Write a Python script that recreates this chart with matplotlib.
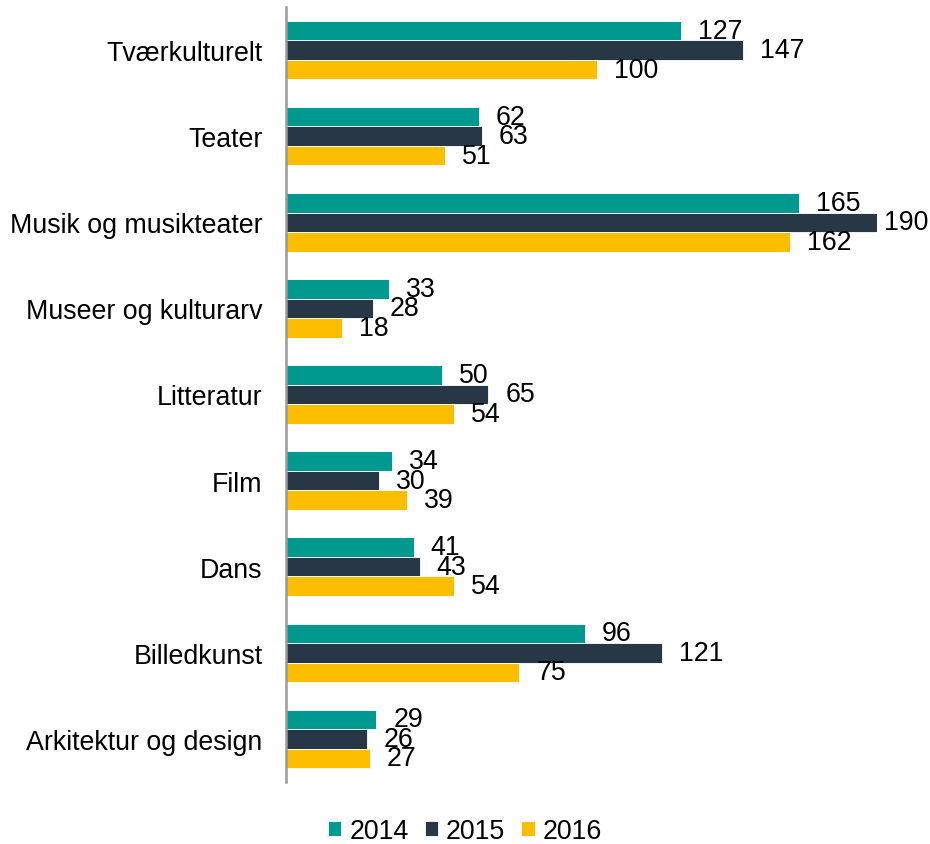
import matplotlib.pyplot as plt
import numpy as np

plt.rcParams['font.family'] = ['Liberation Sans', 'DejaVu Sans']

categories = ['Tværkulturelt', 'Teater', 'Musik og musikteater', 'Museer og kulturarv',
              'Litteratur', 'Film', 'Dans', 'Billedkunst', 'Arkitektur og design']
years = ['2014', '2015', '2016']
v2014 = [127, 62, 165, 33, 50, 34, 41, 96, 29]
v2015 = [147, 63, 190, 28, 65, 30, 43, 121, 26]
v2016 = [100, 51, 162, 18, 54, 39, 54, 75, 27]
colors = ['#009990', '#283746', '#FDBE00']

fs = 19.3
fig = plt.figure(figsize=(9.3, 8.45), dpi=100)
ax = fig.add_axes([286/930, 1-783/845, (877-286)/930, (783-8)/845])

y = np.arange(len(categories))
h = 0.227
series = [v2014, v2015, v2016]
labels = []
for i, (vals, col, yr) in enumerate(zip(series, colors, years)):
    pos = y + (i - 1) * h
    ax.barh(pos, vals, height=h, color=col, edgecolor='white', linewidth=0.6, label=yr)
    for p, v in zip(pos, vals):
        t = ax.annotate(str(v), (v, p), xytext=(17, 0), textcoords='offset pixels',
                        ha='left', va='center', fontsize=fs, color='black')
        labels.append(t)

ax.set_xlim(0, 190)
ax.set_ylim(len(categories) - 0.5, -0.5)
ax.set_yticks(y)
ax.set_yticklabels(categories, fontsize=fs)
ax.tick_params(axis='y', length=0, pad=17)
ax.set_xticks([])
for s in ['top', 'right', 'bottom']:
    ax.spines[s].set_visible(False)
ax.spines['left'].set_color('#999999')
ax.spines['left'].set_linewidth(1.8)

fig.legend(loc='center', bbox_to_anchor=(465/930, 1-832/845), ncol=3, frameon=False,
           fontsize=fs, handlelength=0.5, handleheight=0.5, handletextpad=0.3,
           columnspacing=0.6)

# keep labels inside the figure, like excel does
fig.canvas.draw()
r = fig.canvas.get_renderer()
for t in labels:
    bb = t.get_window_extent(r)
    if bb.x1 > 928:
        dx, dy = t.xyann
        t.xyann = (dx - (bb.x1 - 928), dy)

fig.savefig('out.png', dpi=100)
